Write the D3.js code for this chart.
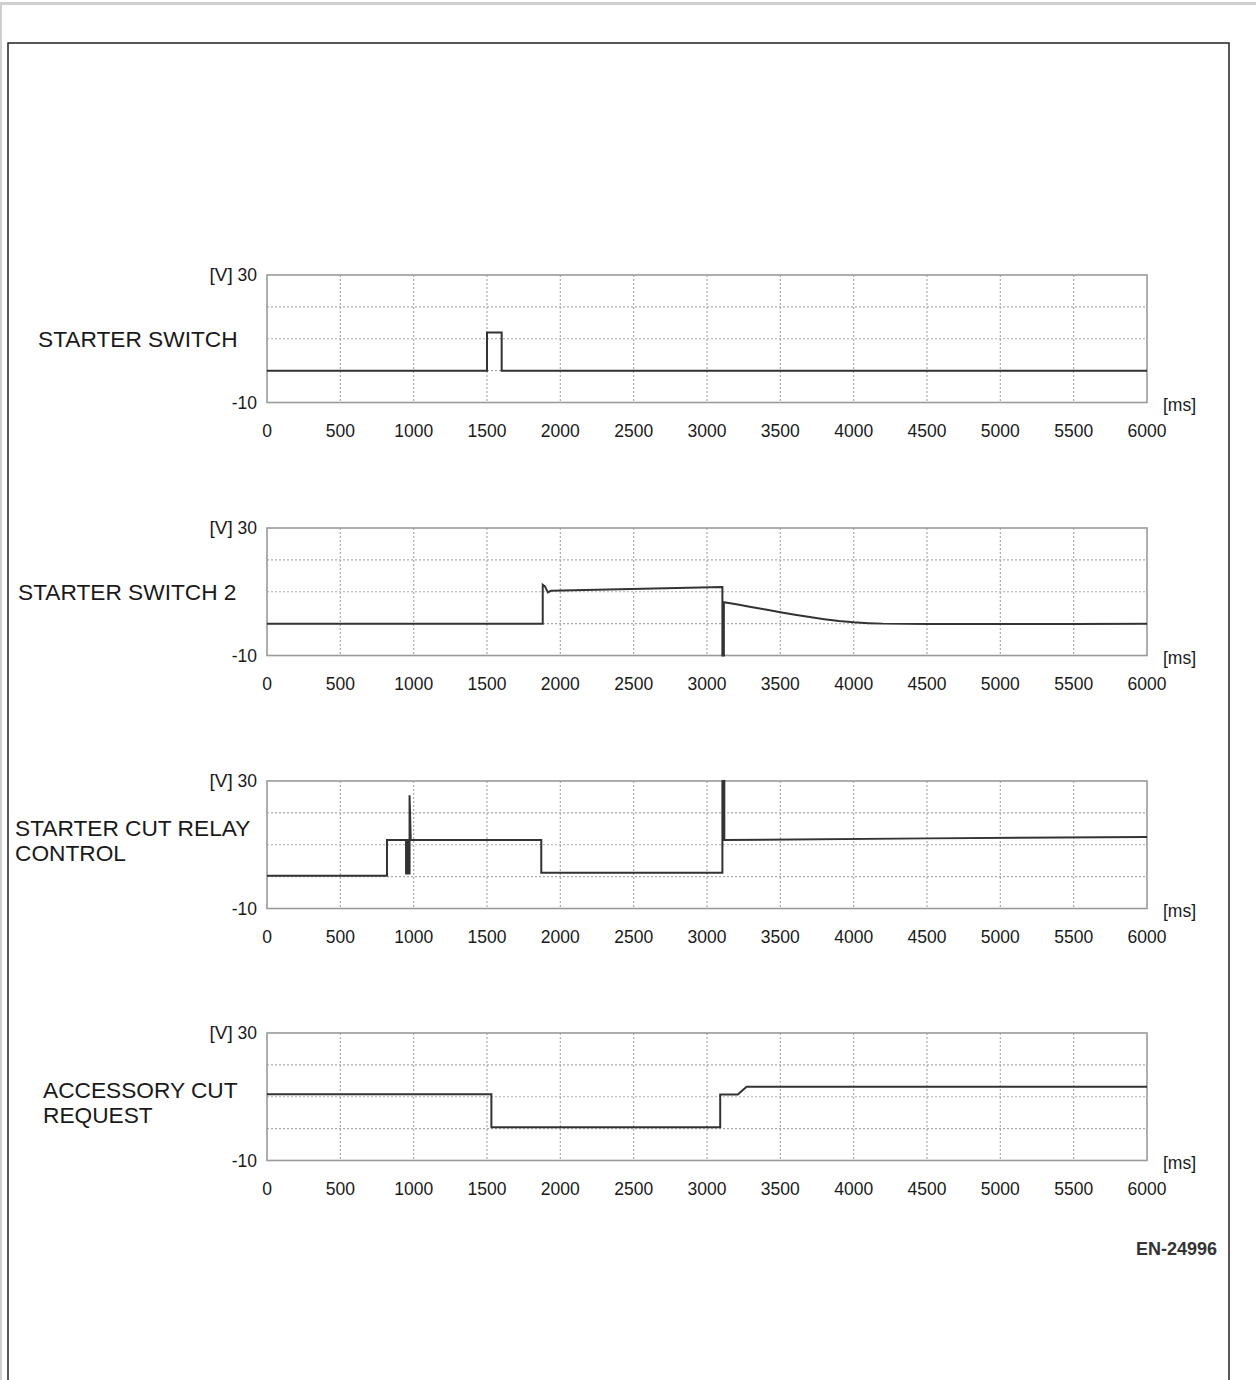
<!DOCTYPE html>
<html>
<head>
<meta charset="utf-8">
<script src="https://cdn.jsdelivr.net/npm/d3@7"></script>
<style>
  body { margin: 0; background: #fff; }
  text { font-family: "Liberation Sans", Arial, sans-serif; fill: #1a1a1a; }
</style>
</head>
<body>
<div id="chart"></div>
<script>
// Section 1: Data
// ===========================
var xTicks = [0, 500, 1000, 1500, 2000, 2500, 3000, 3500, 4000, 4500, 5000, 5500, 6000];
var yGrid = [0, 10, 20];
var channelNames = [["STARTER SWITCH"], ["STARTER SWITCH 2"], ["STARTER CUT RELAY", "CONTROL"], ["ACCESSORY CUT", "REQUEST"]];

// starter switch
var sw1Time = [0, 1500, 1500, 1600, 1600, 6000];
var sw1Volt = [0, 0, 12, 12, 0, 0];

// starter switch 2
var sw2Time = [0, 1880, 1880, 1895, 1915, 1935, 3105, 3105, 3115, 3115, 3200, 3300, 3400, 3500, 3600, 3700, 3800, 3900, 4000, 4100, 4200, 4500, 5000, 5500, 6000];
var sw2Volt = [0, 0, 12.2, 11.7, 9.8, 10.3, 11.5, -10, -10, 6.7, 6.1, 5.2, 4.4, 3.6, 2.8, 2.1, 1.4, 0.8, 0.4, 0.15, 0, -0.1, -0.15, -0.15, 0];

// starter cut relay control
var cutTime = [0, 818, 818, 948, 948, 956, 956, 963, 963, 972, 972, 980, 1870, 1870, 3105, 3105, 3118, 3118, 4500, 6000];
var cutVolt = [0.3, 0.3, 11.5, 11.5, 1.0, 1.0, 11.5, 11.5, 1.0, 1.0, 25.5, 11.5, 11.5, 1.2, 1.2, 30, 30, 11.5, 12.0, 12.4];

// accessory cut request
var accTime = [0, 1530, 1530, 3090, 3090, 3210, 3270, 6000];
var accVolt = [10.8, 10.8, 0.4, 0.4, 10.7, 10.7, 13.1, 13.1];

var signals = [[sw1Time, sw1Volt], [sw2Time, sw2Volt], [cutTime, cutVolt], [accTime, accVolt]];

// Section 2: Canvas
// ===========================
var svgWidth = 1256;
var svgHeight = 1380;
var plotLeft = 267;
var plotRight = 1147;
var plotTops = [275, 528, 781, 1033];
var plotHeight = 127.5;

var svg = d3.select("#chart")
  .append("svg")
  .attr("width", svgWidth)
  .attr("height", svgHeight);

// page edges + frame
svg.append("rect").attr("x", 0).attr("y", 2).attr("width", svgWidth).attr("height", 3).attr("fill", "#cfcfcf");
svg.append("rect").attr("x", 0).attr("y", 2).attr("width", 2).attr("height", svgHeight).attr("fill", "#cfcfcf");
svg.append("rect")
  .attr("x", 8).attr("y", 43)
  .attr("width", 1221).attr("height", 1400)
  .attr("fill", "none")
  .attr("stroke", "#222")
  .attr("stroke-width", 1.5);

var xScale = d3.scaleLinear().domain([0, 6000]).range([plotLeft, plotRight]);

// Section 3: one panel per signal
// ===========================
signals.forEach(function(sig, i) {
  var top = plotTops[i];
  var bottom = top + plotHeight;
  var yScale = d3.scaleLinear().domain([-10, 30]).range([bottom, top]);
  var g = svg.append("g");

  // dotted grid
  g.selectAll(".vgrid")
    .data(xTicks.slice(1, -1))
    .enter()
    .append("line")
    .attr("x1", d => xScale(d)).attr("x2", d => xScale(d))
    .attr("y1", top).attr("y2", bottom)
    .attr("stroke", "#aaa").attr("stroke-width", 1.2)
    .attr("stroke-dasharray", "2,2");

  g.selectAll(".hgrid")
    .data(yGrid)
    .enter()
    .append("line")
    .attr("x1", plotLeft).attr("x2", plotRight)
    .attr("y1", d => yScale(d)).attr("y2", d => yScale(d))
    .attr("stroke", "#aaa").attr("stroke-width", 1.2)
    .attr("stroke-dasharray", "2,2");

  // frame of plot
  g.append("rect")
    .attr("x", plotLeft).attr("y", top)
    .attr("width", plotRight - plotLeft).attr("height", plotHeight)
    .attr("fill", "none")
    .attr("stroke", "#9a9a9a")
    .attr("stroke-width", 1.6);

  // x tick labels
  g.selectAll(".xlab")
    .data(xTicks)
    .enter()
    .append("text")
    .attr("x", d => xScale(d))
    .attr("y", bottom + 28)
    .attr("dy", "0.35em")
    .attr("text-anchor", "middle")
    .style("font-size", "17.5px")
    .text(d => d);

  var yTop = g.append("text")
    .attr("x", 257).attr("y", top).attr("dy", "0.35em")
    .attr("text-anchor", "end")
    .style("font-size", "17.5px");
  yTop.append("tspan").style("font-size", "19px").text("[V]");
  yTop.append("tspan").text(" 30");

  g.append("text")
    .attr("x", 257).attr("y", bottom).attr("dy", "0.35em")
    .attr("text-anchor", "end")
    .style("font-size", "17.5px")
    .text("-10");

  g.append("text")
    .attr("x", 1163).attr("y", bottom + 2).attr("dy", "0.35em")
    .style("font-size", "17.5px")
    .text("[ms]");

  // signal
  var pts = sig[0].map(function(t, k) { return [t, sig[1][k]]; });
  var line = d3.line().x(d => xScale(d[0])).y(d => yScale(d[1]));
  g.append("path")
    .attr("d", line(pts))
    .attr("fill", "none")
    .attr("stroke", "#333")
    .attr("stroke-width", 2)
    .attr("stroke-linejoin", "miter");
});

// Section 4: channel names
// ===========================
var labelX = [38, 18, 15, 43];
var labelY = [339, 592, 828, 1090];
channelNames.forEach(function(lines, i) {
  var t = svg.append("text")
    .attr("x", labelX[i])
    .attr("y", labelY[i])
    .style("font-size", "22.7px");
  lines.forEach(function(s, k) {
    t.append("tspan")
      .attr("x", labelX[i])
      .attr("dy", k == 0 ? "0.35em" : 25)
      .text(s);
  });
});

svg.append("text")
  .attr("x", 1217).attr("y", 1249).attr("dy", "0.35em")
  .attr("text-anchor", "end")
  .style("font-size", "18px")
  .style("font-weight", "bold")
  .style("fill", "#333")
  .text("EN-24996");
</script>
</body>
</html>
